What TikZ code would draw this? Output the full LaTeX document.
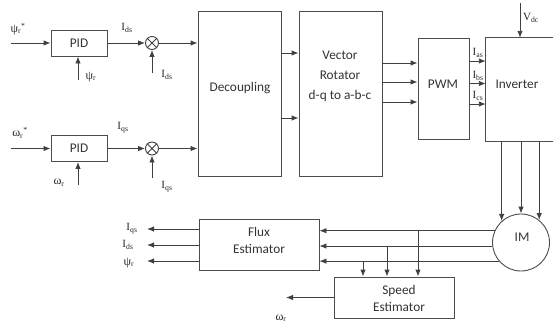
\documentclass[tikz,border=0pt]{standalone}
\usepackage{fontspec}
\setmainfont{Carlito}
\newfontfamily\lblfont{Liberation Serif}
\usetikzlibrary{arrows.meta}

\begin{document}
\begin{tikzpicture}
 [x=1pt, y=-1pt, >={Latex[length=7pt,width=5.5pt]},
  block node/.style={draw=black!70, line width=0.9pt, inner sep=0pt},
  sum node/.style={circle, draw=black!75, line width=0.9pt, minimum size=13pt, inner sep=0pt},
  box text/.style={font=\fontsize{13.3}{20}\selectfont, align=center, text=black!80},
  sig label/.style={font=\lblfont\fontsize{11}{12}\selectfont, text=black!85, inner sep=0pt},
  sig/.style={->, line width=0.9pt, draw=black!75}]

\useasboundingbox (0,0) rectangle (553,325);

% controller blocks
\node[block node, box text, minimum width=56pt, minimum height=26pt] (pid1) at (79,43) {PID};
\node[block node, box text, minimum width=56pt, minimum height=26pt] (pid2) at (79,148.5) {PID};
\node[sum node] (s1) at (152,43) {};
\node[sum node] (s2) at (152,148.5) {};
\draw[black!75, line width=0.9pt] (s1.north east) -- (s1.south west) (s1.north west) -- (s1.south east);
\draw[black!75, line width=0.9pt] (s2.north east) -- (s2.south west) (s2.north west) -- (s2.south east);

\node[block node, minimum width=83pt, minimum height=165pt] (dec) at (239.5,93.5) {};
\node[box text] (dec text) at (240,88) {Decoupling};
\node[block node, minimum width=83pt, minimum height=165pt] (rot) at (340.5,93.5) {};
\node[box text] (rot text) at (340,76) {Vector\\Rotator\\d-q to a-b-c};
\node[block node, minimum width=51pt, minimum height=101pt] (pwm) at (443.5,88.5) {};
\node[box text] (pwm text) at (443,84) {PWM};
\node[minimum width=66pt, minimum height=103pt, inner sep=0pt] (inv) at (519,89.5) {};
\draw[black!70, line width=0.9pt] ([xshift=10pt]inv.north east) -- (inv.north west) -- (inv.south west) -- ([xshift=10pt]inv.south east);
\node[box text] (inv text) at (517,84) {Inverter};
\node[circle, draw=black!70, line width=0.9pt, minimum size=57pt, inner sep=0pt] (im) at (521,242.5) {};
\node[box text] (im text) at (522,237) {IM};
\node[block node, minimum width=120pt, minimum height=51pt] (flux) at (259,244.5) {};
\node[box text, font=\fontsize{13.3}{17}\selectfont] (flux text) at (259,240) {Flux\\Estimator};
\node[block node, minimum width=120pt, minimum height=41pt] (spd) at (394,297.5) {};
\node[box text, font=\fontsize{13.3}{17}\selectfont] (spd text) at (399,298) {Speed\\Estimator};

% signal labels
\node[sig label] (psiref) at (18,29) {{\large ψ}\textsubscript{r}\textsuperscript{*}};
\node[sig label] (idsref) at (127,28) {I\textsubscript{ds}};
\node[sig label] (psifb) at (91,77) {{\large ψ}\textsubscript{r}};
\node[sig label] (idsfb) at (167,75) {I\textsubscript{ds}};
\node[sig label] (wref) at (20,133) {{\large ω}\textsubscript{r}\textsuperscript{*}};
\node[sig label] (iqsref) at (123,128) {I\textsubscript{qs}};
\node[sig label] (wfb) at (59,183) {{\large ω}\textsubscript{r}};
\node[sig label] (iqsfb) at (167,187) {I\textsubscript{qs}};
\node[sig label] (ias) at (478,53) {I\textsubscript{as}};
\node[sig label] (ibs) at (478,76) {I\textsubscript{bs}};
\node[sig label] (ics) at (478,96) {I\textsubscript{cs}};
\node[sig label] (vdc) at (531,18) {V\textsubscript{dc}};
\node[sig label] (iqsout) at (132,229) {I\textsubscript{qs}};
\node[sig label] (idsout) at (128,245) {I\textsubscript{ds}};
\node[sig label] (psiout) at (129,263) {{\large ψ}\textsubscript{r}};
\node[sig label] (wout) at (281,318) {{\large ω}\textsubscript{r}};

\coordinate (in1) at (11,43);
\coordinate (in2) at (11,148.5);
\coordinate (fb1) at (78,80);
\coordinate (fb2) at (78,185);
\coordinate (m1) at (152,73);
\coordinate (m2) at (152,178);
\coordinate (dc) at (520,3);
\coordinate (br1) at (418,231);
\coordinate (br2) at (387,246);
\coordinate (br3) at (363,261);
\coordinate (ot1) at (147,229);
\coordinate (ot2) at (147,245);
\coordinate (ot3) at (147,261);
\coordinate (wtip) at (286,297.5);

\path
  (in1) edge [sig] (pid1)
  (pid1) edge [sig] (s1)
  (fb1) edge [sig] (fb1 |- pid1.south)
  (m1) edge [sig] (s1)
  (s1) edge [sig] (s1 -| dec.west)
  (in2) edge [sig] (pid2)
  (pid2) edge [sig] (s2)
  (fb2) edge [sig] (fb2 |- pid2.south)
  (m2) edge [sig] (s2)
  (s2) edge [sig] (s2 -| dec.west)
  (dc) edge [sig] (dc |- inv.north)
  (spd.west |- wtip) edge [sig] (wtip);

\foreach \y in {53,118}
  \draw[sig] (dec.east |- 0,\y) -- (rot.west |- 0,\y);
\foreach \y in {63,82,102}
  \draw[sig] (rot.east |- 0,\y) -- (pwm.west |- 0,\y);
\foreach \y in {61,83.5,104}
  \draw[sig] (pwm.east |- 0,\y) -- (inv.west |- 0,\y);
\foreach \a in {132,90,51}
  \draw[sig] (im.\a |- inv.south) -- (im.\a);
\foreach \a in {156,187,220}
  \draw[sig] (im.\a) -- (im.\a -| flux.east);
\foreach \b in {br1,br2,br3}
  \draw[sig] (\b) -- (\b |- spd.north);
\foreach \o in {ot1,ot2,ot3}
  \draw[sig] (flux.west |- \o) -- (\o);

\end{tikzpicture}
\end{document}
